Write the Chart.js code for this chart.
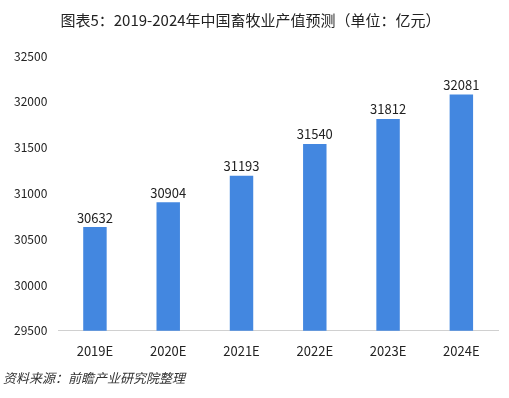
<!DOCTYPE html>
<html>
<head>
<meta charset="utf-8">
<script src="https://cdn.jsdelivr.net/npm/chart.js@4"></script>
<style>
  html, body { margin: 0; padding: 0; background: #fff; }
  #wrap { width: 509px; height: 398px; position: relative; }
</style>
</head>
<body>
<div id="wrap"><canvas id="chart"></canvas></div>
<script>
const years = ['2019E', '2020E', '2021E', '2022E', '2023E', '2024E']
const output = [30632, 30904, 31193, 31540, 31812, 32081]
const yMin = 29500
const yMax = 32500
const yStep = 500

const font = '"Noto Sans CJK SC", "Noto Sans", sans-serif'

// draw the value above each bar
const valueLabels = {
    id: 'valueLabels',
    afterDatasetsDraw(chart) {
        const ctx = chart.ctx
        const meta = chart.getDatasetMeta(0)
        ctx.save()
        ctx.font = '13px ' + font
        ctx.fillStyle = '#222'
        ctx.textAlign = 'center'
        ctx.textBaseline = 'bottom'
        meta.data.forEach((bar, i) => {
            ctx.fillText(String(output[i]), bar.x, bar.y - 3)
        })
        ctx.restore()
    }
}

new Chart(document.getElementById('chart'), {
    type: 'bar',
    data: {
        labels: years,
        datasets: [{
            data: output,
            backgroundColor: '#4387e0',
            categoryPercentage: 1,
            barPercentage: 0.32
        }]
    },
    options: {
        responsive: true,
        maintainAspectRatio: false,
        animation: false,
        layout: { padding: { left: 3, right: 11, top: 0, bottom: 0 } },
        plugins: {
            legend: { display: false },
            tooltip: { enabled: false },
            title: {
                display: true,
                text: '图表5：2019-2024年中国畜牧业产值预测（单位：亿元）',
                color: '#222',
                font: { family: font, size: 15, weight: 'normal' },
                padding: { top: 11, bottom: 27 }
            },
            subtitle: {
                display: true,
                position: 'bottom',
                align: 'start',
                text: '资料来源：前瞻产业研究院整理',
                color: '#333',
                font: { family: font, size: 13, style: 'italic' },
                padding: { top: 0, bottom: 12 }
            }
        },
        scales: {
            x: {
                grid: { display: false, drawTicks: false },
                border: { color: '#d0d0d0' },
                ticks: { color: '#222', font: { family: font, size: 13 }, padding: 12 }
            },
            y: {
                min: yMin,
                max: yMax,
                grid: { display: false, drawTicks: false },
                border: { display: false },
                ticks: {
                    stepSize: yStep,
                    color: '#222',
                    font: { family: font, size: 12 },
                    padding: 11,
                    callback: v => String(v)
                }
            }
        }
    },
    plugins: [valueLabels]
})
</script>
</body>
</html>
